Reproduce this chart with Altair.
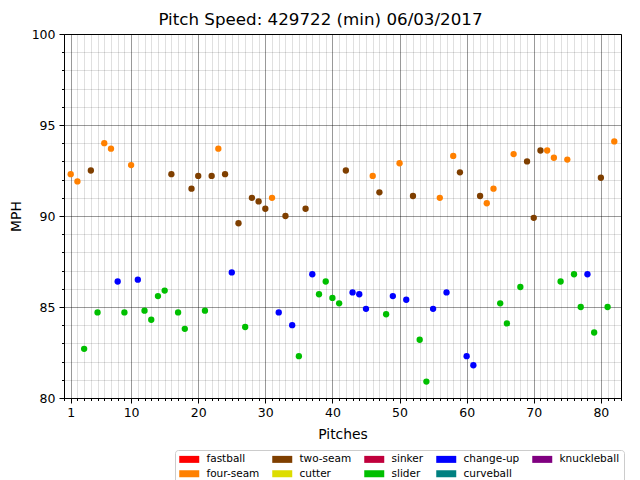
import altair as alt
import pandas as pd

# ---- data ----
pitch_types = ["fastball", "four-seam", "two-seam", "cutter", "sinker",
               "slider", "change-up", "curveball", "knuckleball"]
type_colors = ["#ff0000", "#ff8000", "#7f3f00", "#dddd00", "#c0003c",
               "#00bf00", "#0000ff", "#008080", "#800080"]

four_seam_pitch = [1, 2, 6, 7, 10, 23, 31, 46, 50, 56, 58, 63, 64, 67, 72, 73, 75, 82]
four_seam_mph = [92.3, 91.9, 94.0, 93.7, 92.8, 93.7, 91.0, 92.2, 92.9, 91.0, 93.3, 90.7,
                 91.5, 93.4, 93.6, 93.2, 93.1, 94.1]

two_seam_pitch = [4, 16, 19, 20, 22, 24, 26, 28, 29, 30, 33, 36, 42, 47, 52, 59, 62, 69,
                  70, 71, 80]
two_seam_mph = [92.5, 92.3, 91.5, 92.2, 92.2, 92.3, 89.6, 91.0, 90.8, 90.4, 90.0, 90.4,
                92.5, 91.3, 91.1, 92.4, 91.1, 93.0, 89.9, 93.6, 92.1]

slider_pitch = [3, 5, 9, 12, 13, 14, 15, 17, 18, 21, 27, 35, 38, 39, 40, 41, 48, 53, 54,
                65, 66, 68, 74, 76, 77, 79, 81]
slider_mph = [82.7, 84.7, 84.7, 84.8, 84.3, 85.6, 85.9, 84.7, 83.8, 84.8, 83.9, 82.3,
              85.7, 86.4, 85.5, 85.2, 84.6, 83.2, 80.9, 85.2, 84.1, 86.1, 86.4, 86.8,
              85.0, 83.6, 85.0]

changeup_pitch = [8, 11, 25, 32, 34, 37, 43, 44, 45, 49, 51, 55, 57, 60, 61, 78]
changeup_mph = [86.4, 86.5, 86.9, 84.7, 84.0, 86.8, 85.8, 85.7, 84.9, 85.6, 85.4, 84.9,
                85.8, 82.3, 81.8, 86.8]

x_ticks = list(range(0, 84))
y_ticks = list(range(80, 101))

rows = []
for name, ps, ms in [("four-seam", four_seam_pitch, four_seam_mph),
                     ("two-seam", two_seam_pitch, two_seam_mph),
                     ("slider", slider_pitch, slider_mph),
                     ("change-up", changeup_pitch, changeup_mph)]:
    for p, m in zip(ps, ms):
        rows.append({"pitch": p, "mph": m, "type": name})
df = pd.DataFrame(rows)

FONT = "DejaVu Sans"

x_major = "datum.value == 1 || (datum.value % 10 == 0 && datum.value > 0)"
y_major = "datum.value % 5 == 0"

x_axis = alt.Axis(
    values=x_ticks,
    labelExpr=f"({x_major}) ? datum.label : ''",
    title="Pitches",
    grid=True,
    gridColor="#000000",
    gridOpacity={"condition": {"test": x_major, "value": 0.4}, "value": 0.12},
    gridWidth=1,
    tickSize={"condition": {"test": x_major, "value": 5}, "value": 2.5},
    tickColor="#000000",
    domainColor="#000000",
    labelFont=FONT, labelFontSize=12.5, labelColor="#000000", labelPadding=3,
    labelFlush=False, labelOverlap=False,
    titleFont=FONT, titleFontSize=13.9, titleFontWeight="normal", titleColor="#000000",
    titlePadding=9,
)
y_axis = alt.Axis(
    values=y_ticks,
    labelExpr=f"({y_major}) ? datum.label : ''",
    title="MPH",
    grid=True,
    gridColor="#000000",
    gridOpacity={"condition": {"test": y_major, "value": 0.4}, "value": 0.12},
    gridWidth=1,
    tickSize={"condition": {"test": y_major, "value": 5}, "value": 2.5},
    tickColor="#000000",
    domainColor="#000000",
    labelFont=FONT, labelFontSize=12.5, labelColor="#000000", labelPadding=4,
    labelFlush=False, labelOverlap=False,
    titleFont=FONT, titleFontSize=13.9, titleFontWeight="normal", titleColor="#000000",
    titlePadding=8,
)

legend = alt.Legend(
    title=None,
    orient="none",
    direction="vertical",
    legendX=111,
    legendY=416,
    columns=5,
    symbolType="M-1,-0.7L3,-0.7L3,0.7L-1,0.7Z",
    symbolSize=100,
    symbolStrokeWidth=0,
    symbolOpacity=1,
    labelFont=FONT,
    labelFontSize=10.5,
    labelColor="#000000",
    labelOffset=17,
    columnPadding=12,
    rowPadding=3.5,
    padding=4,
    strokeColor="#cccccc",
    fillColor="#ffffff",
    cornerRadius=3,
)

chart = alt.Chart(df).mark_circle(size=40, opacity=1).encode(
    x=alt.X("pitch:Q", scale=alt.Scale(domain=[0, 83], nice=False, zero=False), axis=x_axis),
    y=alt.Y("mph:Q", scale=alt.Scale(domain=[80, 100], nice=False, zero=False), axis=y_axis),
    color=alt.Color("type:N", scale=alt.Scale(domain=pitch_types, range=type_colors),
                    legend=legend),
).properties(
    width=557,
    height=364,
    title=alt.TitleParams(
        "Pitch Speed: 429722 (min) 06/03/2017",
        font=FONT, fontSize=16.7, fontWeight="normal", color="#000000",
        anchor="middle", baseline="bottom", offset=0, dx=-22, dy=18,
    ),
    autosize=alt.AutoSizeParams(type="none"),
    padding={"left": 56, "top": 26, "right": 11, "bottom": 100},
).configure_view(
    stroke="#000000", strokeWidth=1
)

chart.save("out.html", embed_options={"renderer": "svg", "actions": False})
